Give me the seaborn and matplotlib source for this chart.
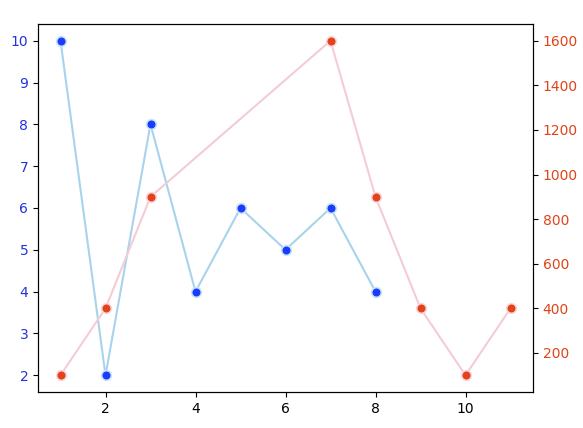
import matplotlib
matplotlib.use('Agg')
import matplotlib.pyplot as plt
import seaborn as sns
import pandas as pd

# Data
x_left = [1, 2, 3, 4, 5, 6, 7, 8]
y_left = [10, 2, 8, 4, 6, 5, 6, 4]
x_right = [1, 2, 3, 7, 8, 9, 10, 11]
y_right = [100, 400, 900, 1600, 900, 400, 100, 400]

left_df = pd.DataFrame({'x': x_left, 'y': y_left})
right_df = pd.DataFrame({'x': x_right, 'y': y_right})

fig, ax = plt.subplots(figsize=(5.83, 4.28))
fig.subplots_adjust(left=38/583, right=533/583, top=1-24/428, bottom=1-392/428)
ax2 = ax.twinx()

sns.lineplot(x='x', y='y', data=left_df, ax=ax, color='#a8d3ec', marker='o',
             markersize=7, markerfacecolor='#1a3cff', markeredgecolor='#c8e4f6',
             markeredgewidth=1.2)
sns.lineplot(x='x', y='y', data=right_df, ax=ax2, color='#f4ccd6', marker='o',
             markersize=7, markerfacecolor='#e3421a', markeredgecolor='#f8d8df',
             markeredgewidth=1.2)

ax.set_xlabel('')
ax.set_ylabel('')
ax2.set_ylabel('')
ax.tick_params(axis='y', labelcolor='#2233dd')
ax2.tick_params(axis='y', labelcolor='#e04418')

plt.savefig('out.png', dpi=100)
